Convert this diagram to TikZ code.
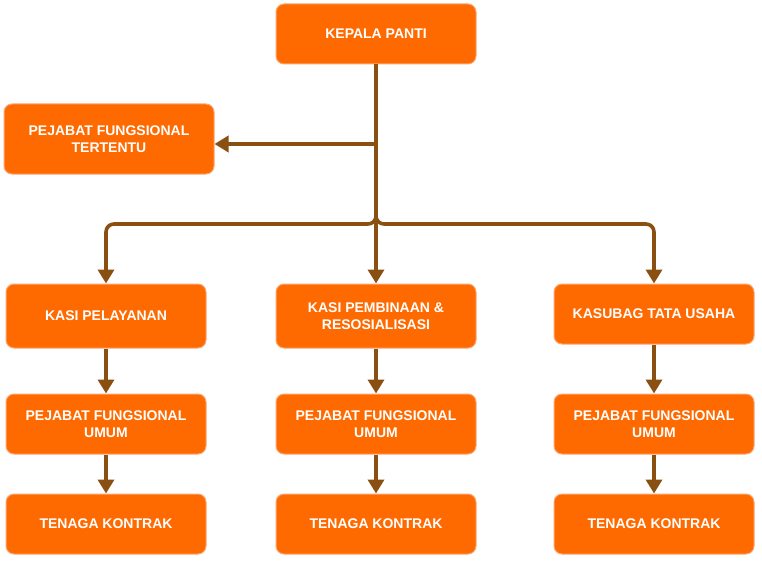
\documentclass[tikz,border=0pt]{standalone}
\usepackage{fontspec}
\setmainfont{Liberation Sans}
\usetikzlibrary{arrows.meta}
\definecolor{boxfill}{HTML}{FF6A00}
\definecolor{boxline}{HTML}{F9A874}
\definecolor{arrowc}{HTML}{8A5012}
\begin{document}
\begin{tikzpicture}[x=0.75pt,y=-0.75pt,
  orgbox/.style={draw=boxline, line width=0.75pt, fill=boxfill, rounded corners=6pt,
    text=white, font=\bfseries\fontsize{10.5}{12.5}\selectfont, align=center,
    minimum width=150pt, minimum height=45pt, inner sep=0pt},
  conn/.style={draw=arrowc, line width=2.7pt, rounded corners=6pt,
    -{Triangle[width=12pt,length=10.5pt]}}]
\useasboundingbox (0,0) rectangle (762,563);
\node[orgbox] (kp) at (376,34) {KEPALA PANTI};
\node[orgbox, minimum width=157.5pt, minimum height=52.5pt] (pft) at (109,139) {PEJABAT FUNGSIONAL\\TERTENTU};
\node[orgbox, minimum height=48pt] (k1) at (106,316) {KASI PELAYANAN};
\node[orgbox, minimum height=48pt] (k2) at (376,316) {KASI PEMBINAAN \&\\RESOSIALISASI};
\node[orgbox] (k3) at (654,314) {KASUBAG TATA USAHA};
\node[orgbox] (p1) at (106,424) {PEJABAT FUNGSIONAL\\UMUM};
\node[orgbox] (p2) at (376,424) {PEJABAT FUNGSIONAL\\UMUM};
\node[orgbox] (p3) at (654,424) {PEJABAT FUNGSIONAL\\UMUM};
\node[orgbox] (t1) at (106,524) {TENAGA KONTRAK};
\node[orgbox] (t2) at (376,524) {TENAGA KONTRAK};
\node[orgbox] (t3) at (654,524) {TENAGA KONTRAK};
\coordinate (jt) at (376,144);
\coordinate (jb) at (376,224);
\draw[draw=arrowc, line width=2.7pt] (kp.south) -- (jt);
\draw[conn] (jt) -- (pft.east |- jt);
\draw[conn] (jt) -- (jb) -- (jb -| k1.north) -- (k1.north);
\draw[conn] (jt) -- (jb) -- (jb -| k3.north) -- (k3.north);
\draw[conn] (jt) -- (k2.north);
\draw[conn] (k1) -- (p1);
\draw[conn] (k2) -- (p2);
\draw[conn] (k3) -- (p3);
\draw[conn] (p1) -- (t1);
\draw[conn] (p2) -- (t2);
\draw[conn] (p3) -- (t3);
\end{tikzpicture}
\end{document}
